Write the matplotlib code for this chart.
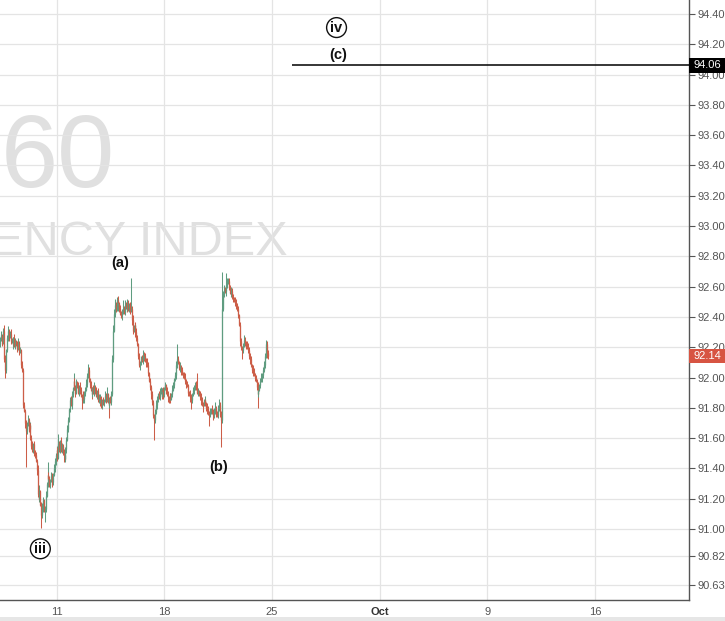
import numpy as np
import matplotlib
matplotlib.use("Agg")
import matplotlib.pyplot as plt
from matplotlib.patches import Rectangle
import matplotlib.transforms as mtransforms

# ---------------- data (hourly bars) ----------------
closes = [
    92.25, 92.28, 92.24, 92.31, 92.20, 92.12, 92.05, 92.18, 92.26, 92.31,
    92.27, 92.29, 92.24, 92.25, 92.22, 92.26, 92.21, 92.24, 92.22, 92.19,
    92.23, 92.17, 92.18, 92.12, 92.08, 92.05, 91.82, 91.78, 91.70, 91.65,
    91.69, 91.72, 91.66, 91.69, 91.60, 91.55, 91.52, 91.56, 91.51, 91.49,
    91.45, 91.39, 91.23, 91.20, 91.25, 91.16, 91.09, 91.14, 91.19, 91.12,
    91.13, 91.22, 91.30, 91.36, 91.33, 91.29, 91.32, 91.35, 91.31, 91.36,
    91.40, 91.45, 91.49, 91.52, 91.47, 91.56, 91.53, 91.58, 91.52, 91.55,
    91.51, 91.49, 91.46, 91.53, 91.59, 91.66, 91.72, 91.79, 91.85, 91.82,
    91.89, 91.93, 91.98, 91.94, 91.90, 91.96, 91.95, 91.90, 91.94, 91.92,
    91.88, 91.85, 91.88, 91.86, 91.90, 91.92, 91.96, 92.01, 92.05, 91.99,
    91.95, 91.92, 91.89, 91.93, 91.90, 91.94, 91.92, 91.88, 91.91, 91.85,
    91.87, 91.84, 91.86, 91.82, 91.85, 91.83, 91.85, 91.88, 91.86, 91.89,
    91.84, 91.82, 91.86, 91.84, 91.89, 92.12, 92.31, 92.42, 92.48, 92.46,
    92.51, 92.47, 92.49, 92.45, 92.42, 92.41, 92.44, 92.45, 92.43, 92.48,
    92.46, 92.45, 92.49, 92.46, 92.48, 92.44, 92.45, 92.38, 92.31, 92.33,
    92.35, 92.30, 92.26, 92.22, 92.14, 92.08, 92.10, 92.12, 92.11, 92.15,
    92.13, 92.14, 92.12, 92.10, 92.08, 92.03, 91.98, 91.94, 91.89, 91.84,
    91.79, 91.75, 91.72, 91.77, 91.82, 91.86, 91.89, 91.87, 91.90, 91.92,
    91.88, 91.91, 91.89, 91.93, 91.95, 91.91, 91.89, 91.87, 91.85, 91.88,
    91.86, 91.89, 91.92, 91.95, 91.99, 92.02, 92.08, 92.12, 92.10, 92.08,
    92.06, 92.07, 92.05, 92.03, 92.02, 92.00, 91.98, 91.96, 91.95, 91.92,
    91.90, 91.89, 91.87, 91.85, 91.89, 91.92, 91.94, 91.95, 91.93, 91.92,
    91.90, 91.91, 91.89, 91.87, 91.85, 91.83, 91.82, 91.84, 91.85, 91.82,
    91.80, 91.79, 91.77, 91.75, 91.78, 91.79, 91.77, 91.75, 91.77, 91.78,
    91.79, 91.77, 91.75, 91.79, 91.82, 91.77, 91.72, 92.45, 92.52, 92.55,
    92.58, 92.57, 92.61, 92.63, 92.64, 92.60, 92.56, 92.57, 92.55, 92.53,
    92.52, 92.51, 92.49, 92.48, 92.45, 92.41, 92.35, 92.28, 92.24, 92.20,
    92.18, 92.21, 92.25, 92.23, 92.22, 92.20, 92.18, 92.16, 92.14, 92.12,
    92.08, 92.05, 92.04, 92.02, 92.00, 91.98, 91.94, 91.89, 91.92, 91.95,
    91.98, 92.00, 92.02, 92.05, 92.08, 92.14, 92.22, 92.19, 92.16, 92.14,
]
first_open = 92.22

# wick lengths above / below the candle body, in hundredths
upper_wicks = [
    2, 3, 1, 2, 4, 2, 3, 1, 2, 3,
    1, 2, 3, 1, 2, 1, 3, 2, 1, 2,
    3, 1, 2, 1, 2, 3, 1, 2, 1, 2,
    2, 3, 1, 2, 1, 2, 3, 1, 2, 1,
    2, 1, 3, 2, 4, 1, 2, 3, 2, 1,
    2, 3, 1, 8, 2, 2, 1, 3, 2, 1,
    3, 2, 1, 3, 2, 7, 2, 1, 3, 2,
    1, 2, 3, 1, 2, 3, 2, 1, 2, 3,
    2, 1, 5, 2, 1, 3, 2, 2, 1, 3,
    2, 1, 2, 3, 1, 2, 3, 2, 4, 2,
    1, 3, 2, 1, 2, 3, 1, 2, 1, 2,
    2, 1, 3, 2, 1, 2, 1, 3, 2, 5,
    1, 2, 1, 2, 2, 3, 4, 3, 4, 2,
    2, 3, 2, 1, 3, 2, 1, 6, 2, 3,
    2, 1, 3, 2, 1, 2, 21, 2, 3, 2,
    1, 2, 3, 2, 1, 2, 1, 2, 3, 3,
    2, 1, 2, 1, 3, 2, 1, 2, 1, 2,
    1, 2, 1, 2, 3, 2, 1, 2, 3, 2,
    1, 2, 3, 1, 2, 1, 3, 2, 1, 2,
    2, 1, 3, 2, 1, 2, 3, 10, 2, 1,
    2, 3, 1, 2, 1, 2, 3, 1, 2, 1,
    2, 1, 3, 2, 1, 2, 1, 2, 3, 10,
    1, 2, 1, 2, 3, 2, 1, 2, 3, 1,
    2, 3, 2, 1, 2, 1, 3, 2, 1, 2,
    5, 2, 1, 3, 4, 2, 1, 25, 3, 2,
    3, 2, 8, 3, 2, 2, 1, 3, 2, 1,
    2, 1, 2, 3, 1, 2, 1, 2, 3, 2,
    1, 2, 3, 2, 1, 2, 3, 2, 1, 2,
    2, 1, 3, 2, 1, 2, 1, 3, 2, 1,
    2, 3, 1, 2, 3, 2, 3, 2, 1, 2,
]
lower_wicks = [
    2, 1, 3, 2, 1, 2, 5, 2, 1, 2,
    3, 1, 2, 1, 2, 3, 1, 2, 1, 2,
    1, 2, 1, 3, 2, 1, 2, 1, 3, 24,
    2, 1, 2, 3, 1, 2, 1, 2, 3, 2,
    1, 3, 2, 1, 2, 1, 8, 2, 3, 1,
    7, 2, 1, 2, 3, 1, 2, 1, 3, 2,
    1, 2, 3, 1, 2, 1, 2, 3, 1, 2,
    2, 5, 1, 2, 3, 1, 2, 1, 2, 1,
    3, 2, 1, 2, 3, 1, 2, 1, 2, 3,
    1, 6, 2, 1, 3, 2, 1, 2, 1, 2,
    2, 1, 3, 2, 1, 2, 3, 1, 2, 1,
    2, 3, 1, 2, 3, 1, 2, 1, 3, 2,
    1, 9, 2, 1, 2, 1, 2, 1, 2, 3,
    2, 1, 3, 2, 1, 2, 3, 2, 1, 2,
    1, 2, 1, 2, 3, 2, 1, 3, 2, 1,
    2, 3, 2, 1, 2, 1, 3, 2, 1, 2,
    2, 1, 2, 3, 1, 2, 1, 2, 3, 2,
    1, 2, 13, 2, 1, 3, 2, 1, 2, 1,
    2, 1, 3, 2, 1, 2, 1, 3, 2, 1,
    3, 1, 2, 1, 2, 1, 3, 2, 1, 2,
    1, 2, 3, 1, 2, 1, 2, 3, 1, 2,
    2, 1, 3, 6, 2, 1, 3, 2, 1, 2,
    1, 2, 1, 2, 3, 2, 5, 1, 2, 1,
    2, 3, 2, 7, 1, 2, 1, 3, 2, 1,
    2, 3, 1, 2, 1, 3, 18, 2, 1, 3,
    2, 1, 3, 2, 1, 2, 1, 3, 2, 1,
    2, 1, 2, 3, 1, 2, 1, 2, 3, 2,
    6, 2, 1, 2, 3, 1, 2, 1, 2, 3,
    1, 2, 3, 1, 2, 1, 2, 9, 2, 1,
    2, 1, 3, 2, 1, 2, 1, 2, 3, 2,
]

first_bar_hour = -63          # trading hour of first bar, relative to the "11" tick
x_tick_hours = [0, 120, 240, 360, 480, 600]
x_tick_labels = ["11", "18", "25", "Oct", "9", "16"]
y_tick_values = [94.40, 94.20, 94.00, 93.80, 93.60, 93.40, 93.20, 93.00, 92.80,
                 92.60, 92.40, 92.20, 92.00, 91.80, 91.60, 91.40, 91.20, 91.00,
                 90.82, 90.63]
y_tick_labels = ["%.2f" % v for v in y_tick_values]

target_level = 94.06
target_start_hour = 262
last_price = 92.14

wave_text = ["(a)", "(b)", "(c)"]
wave_hours = [71, 181, 314]
wave_prices = [92.755, 91.41, 94.13]
circled_text = ["iii", "iv"]
circled_hours = [-18, 312]
circled_prices = [90.87, 94.31]

# ---------------- derived OHLC ----------------
c = np.array(closes)
o = np.concatenate([[first_open], c[:-1]])
h = np.maximum(o, c) + np.array(upper_wicks) / 100.0
l = np.minimum(o, c) - np.array(lower_wicks) / 100.0
t = np.arange(len(c)) + first_bar_hour

UP = "#5f9c80"
DOWN = "#cc5e48"
BOX_RED = "#d75442"
cols = [UP if cc >= oo else DOWN for oo, cc in zip(o, c)]

# ---------------- figure ----------------
W, H = 725, 621
fig = plt.figure(figsize=(W / 100, H / 100), dpi=100)
fig.patch.set_facecolor("white")
ax = fig.add_axes([0, 21 / H, 689 / W, 600 / H])
ax.set_facecolor("white")

ax.set_xlim(-62.95, 704.7)
ax.set_ylim(90.532, 94.492)

# watermark
ax.text(115 / 689, 1 - 187 / 600, "60", transform=ax.transAxes, ha="right",
        va="baseline", fontsize=74, color="#e0e0e0", family="Liberation Sans",
        zorder=0, clip_on=True)
ax.text(288 / 689, 1 - 255 / 600, "ENCY INDEX", transform=ax.transAxes,
        ha="right", va="baseline", fontsize=35, color="#e0e0e0",
        family="Liberation Sans", zorder=0, clip_on=True)

# grid
for v in y_tick_values:
    ax.axhline(v, color="#e4e4e4", lw=0.9, zorder=0.5)
for hh in x_tick_hours:
    ax.axvline(hh, color="#e4e4e4", lw=0.9, zorder=0.5)

# candles
ax.vlines(t, l, h, colors=cols, linewidth=0.75, zorder=2)
ax.vlines(t, np.minimum(o, c), np.maximum(o, c), colors=cols, linewidth=0.9, zorder=2)

# target line
ax.plot([target_start_hour, 704.7], [target_level, target_level], color="black",
        lw=1.1, zorder=3, solid_capstyle="butt")

# wave labels
for s, xx, yy in zip(wave_text, wave_hours, wave_prices):
    ax.text(xx, yy, s, ha="center", va="center", fontsize=10.5, fontweight="bold",
            family="Liberation Sans", color="#111111", zorder=4)
for s, xx, yy in zip(circled_text, circled_hours, circled_prices):
    ax.text(xx, yy, s, ha="center", va="center", fontsize=10.5, fontweight="bold",
            family="Liberation Sans", color="#111111", zorder=4,
            bbox=dict(boxstyle="circle,pad=0.2", fc="white", ec="#111111", lw=1.0))

# axes styling
for side in ["left", "top"]:
    ax.spines[side].set_visible(False)
for side in ["right", "bottom"]:
    ax.spines[side].set_color("#555555")
    ax.spines[side].set_linewidth(1.0)
ax.yaxis.tick_right()
ax.set_yticks(y_tick_values)
ax.set_yticklabels(y_tick_labels)
ax.set_xticks(x_tick_hours)
ax.set_xticklabels(x_tick_labels)
ax.tick_params(axis="y", direction="out", length=4, width=0.8, color="#555555",
               labelsize=8, labelcolor="#555555", pad=2)
ax.tick_params(axis="x", direction="out", length=0, labelsize=8,
               labelcolor="#555555", pad=5)
for lab in ax.get_yticklabels() + ax.get_xticklabels():
    lab.set_family("Liberation Sans")
ax.get_xticklabels()[3].set_color("#333333")
ax.get_xticklabels()[3].set_fontweight("bold")

# price boxes on the axis
blend = mtransforms.blended_transform_factory(ax.transAxes, ax.transData)
for val, fc in [(target_level, "black"), (last_price, BOX_RED)]:
    ax.add_patch(Rectangle((1.0, val - 0.047), 36 / 689, 0.094, transform=blend,
                           fc=fc, ec="none", clip_on=False, zorder=10))
    ax.text(1.0 + 18 / 689, val, "%.2f" % val, transform=blend, ha="center",
            va="center", color="white", fontsize=8, family="Liberation Sans",
            clip_on=False, zorder=11)

# bottom strip
fig.patches.append(Rectangle((0, 0), 1, 4 / H, transform=fig.transFigure,
                             fc="#e6e6e6", ec="none"))

fig.savefig("out.png", dpi=100)
